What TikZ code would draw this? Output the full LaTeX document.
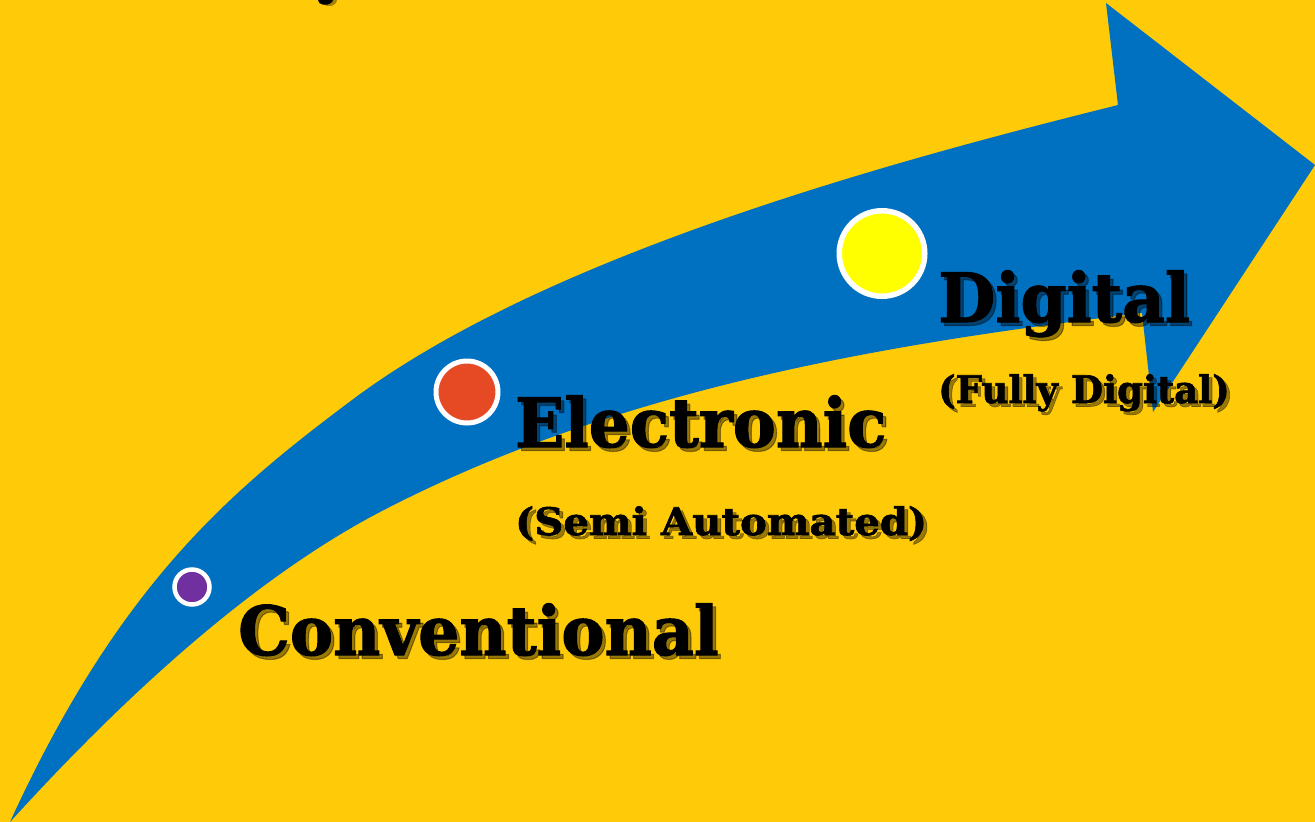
\documentclass[tikz,border=0pt]{standalone}
\usepackage{fontspec}
\setmainfont{DejaVu Serif}
\newfontfamily\heavyfont[FakeBold=1.6]{DejaVu Serif Bold}
\definecolor{bgyellow}{HTML}{FFCA08}
\definecolor{arrowblue}{HTML}{0070C0}
\definecolor{dotpurple}{HTML}{7030A0}
\definecolor{dotred}{HTML}{E64A24}
\definecolor{dotyellow}{HTML}{FFFF00}
\newcommand{\shtext}[1]{\makebox[0pt][l]{\hspace{3.5pt}\raisebox{-3.5pt}{\pgfsetfillopacity{0.4}\pgfsetstrokeopacity{0.4}#1}}\pgfsetfillopacity{1}\pgfsetstrokeopacity{1}#1}
\newcommand{\sqz}[2]{\scalebox{#1}[1]{\shtext{#2}}}
\tikzset{
  bigtext/.style={anchor=base west, inner sep=0pt, font=\heavyfont\fontsize{68}{72}\selectfont},
  subtext/.style={anchor=base west, inner sep=0pt, font=\heavyfont\fontsize{38}{42}\selectfont},
  dot/.style={circle, draw=white, inner sep=0pt},
}
\begin{document}
\begin{tikzpicture}[x=1pt,y=-1pt]
\useasboundingbox (0,0) rectangle (1315,822);
\fill[bgyellow] (0,0) rectangle (1315,822);
% curved arrow
\fill[arrowblue] (10,822)
  .. controls (120,582) and (232,490) .. (352,400)
  .. controls (552,250) and (918,155) .. (1118,105)
  -- (1106,3) -- (1315,165) -- (1153,412) -- (1142,313)
  .. controls (892,343) and (620,387) .. (380,512)
  .. controls (250,580) and (120,701) .. (10,822)
  -- cycle;
% fragment of cut-off text at the top
\fill[black, opacity=0.35] (321.5,0) .. controls (322,6) and (330,9) .. (336,3) -- (337,0) -- cycle;
\fill[black] (318,0) .. controls (318,5) and (327,7) .. (332,2) -- (333,0) -- cycle;
% dots
\node[dot, line width=4.5pt, fill=dotpurple, minimum size=35pt] (d1) at (192,587) {};
\node[dot, line width=5pt, fill=dotred, minimum size=62pt] (d2) at (467,392) {};
\node[dot, line width=5.5pt, fill=dotyellow, minimum size=85.5pt] (d3) at (882,253.5) {};
% labels
\node[bigtext] (t1) at (238,655) {\sqz{0.955}{Conventional}};
\node[bigtext] (t2) at (515,447) {\sqz{0.948}{Electronic}};
\node[subtext] (s2) at (515,535) {\sqz{1.06}{(Semi Automated)}};
\node[bigtext] (t3) at (938,322) {\sqz{0.97}{Digital}};
\node[subtext] (s3) at (938,403) {\sqz{0.975}{(Fully Digital)}};
\end{tikzpicture}
\end{document}
